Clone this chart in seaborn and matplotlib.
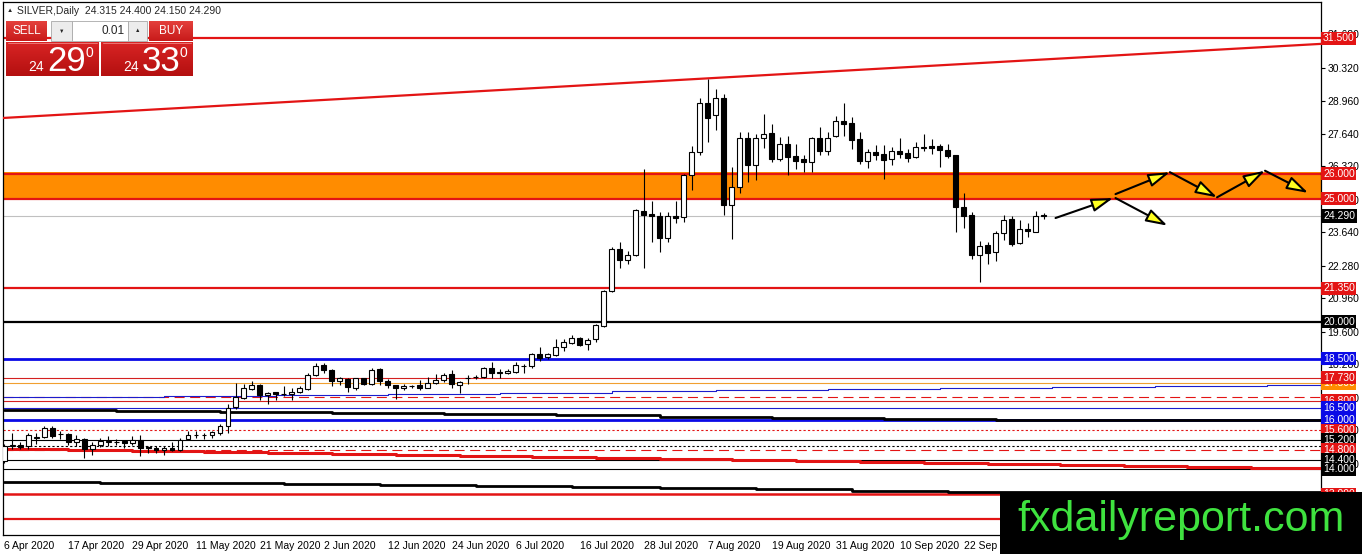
import matplotlib

matplotlib.use("Agg")

import matplotlib.pyplot as plt
from matplotlib.colors import LinearSegmentedColormap
from matplotlib.patches import Rectangle
import numpy as np
import pandas as pd
import seaborn as sns


# daily silver candles from 6 Apr 2020
opens = [14.35, 14.95, 15.00, 14.95, 15.28, 15.30, 15.68, 15.43, 15.46, 15.10,
         15.24, 14.84, 15.00, 15.12, 15.10, 15.14, 15.08, 15.20, 14.90, 14.88,
         14.78, 14.88, 14.80, 15.25, 15.38, 15.40, 15.38, 15.50, 15.75, 16.53,
         16.91, 17.25, 17.45, 17.02, 17.15, 17.05, 17.07, 17.15, 17.25, 17.83,
         18.24, 18.02, 17.59, 17.66, 17.32, 17.70, 17.48, 18.06, 17.59, 17.43,
         17.29, 17.38, 17.43, 17.32, 17.52, 17.62, 17.86, 17.45, 17.70, 17.74,
         17.76, 18.13, 17.93, 17.90, 17.95, 18.19, 18.20, 18.67, 18.58, 18.63,
         18.99, 19.12, 19.35, 19.08, 19.28, 19.83, 21.25, 22.95, 22.51, 22.70,
         24.51, 24.37, 24.28, 23.41, 24.30, 24.24, 25.96, 26.91, 28.89, 28.40,
         29.08, 24.75, 25.45, 27.45, 26.36, 27.45, 27.67, 26.61, 27.22, 26.72,
         26.61, 26.50, 27.45, 26.95, 27.53, 28.13, 28.07, 27.42, 26.54, 26.88,
         26.81, 26.61, 26.95, 26.85, 26.67, 27.06, 27.12, 27.15, 26.99, 26.77,
         24.64, 24.33, 22.70, 23.11, 22.84, 23.60, 24.17, 23.18, 23.76, 23.65,
         24.315]
highs = [15.05, 15.50, 15.10, 15.50, 15.50, 15.78, 15.76, 15.55, 15.50, 15.38,
         15.28, 15.10, 15.28, 15.35, 15.24, 15.15, 15.35, 15.40, 14.97, 14.94,
         14.94, 15.10, 15.28, 15.55, 15.55, 15.50, 15.55, 15.86, 16.64, 17.52,
         17.48, 17.59, 17.47, 17.15, 17.16, 17.38, 17.29, 17.38, 17.93, 18.33,
         18.33, 18.06, 17.75, 17.72, 17.72, 17.72, 18.13, 18.13, 17.66, 17.45,
         17.48, 17.45, 17.62, 17.75, 17.89, 17.93, 18.02, 17.59, 17.83, 17.83,
         18.15, 18.36, 18.06, 18.06, 18.36, 18.27, 18.74, 18.99, 18.74, 19.31,
         19.31, 19.45, 19.39, 19.35, 19.89, 21.30, 23.02, 23.22, 22.88, 24.57,
         26.20, 24.91, 24.44, 24.44, 24.91, 26.00, 27.12, 29.08, 29.86, 29.43,
         29.25, 26.27, 27.69, 27.72, 27.63, 28.44, 28.03, 27.49, 27.53, 27.22,
         26.77, 27.49, 27.90, 27.72, 28.34, 28.89, 28.30, 27.69, 27.01, 27.18,
         27.18, 27.08, 27.45, 27.01, 27.29, 27.63, 27.42, 27.22, 27.22, 26.77,
         25.23, 24.44, 23.28, 23.24, 23.69, 24.33, 24.28, 24.14, 24.00, 24.51,
         24.400]
lows = [14.25, 14.85, 14.85, 14.82, 15.05, 15.26, 15.28, 15.25, 15.00, 14.97,
        14.47, 14.60, 14.92, 14.96, 15.00, 14.88, 15.00, 14.53, 14.67, 14.65,
        14.60, 14.74, 14.74, 15.20, 15.27, 15.24, 15.27, 15.42, 15.48, 16.44,
        16.88, 17.21, 16.84, 16.67, 16.84, 16.98, 16.84, 17.11, 17.21, 17.79,
        17.93, 17.39, 17.43, 17.15, 17.21, 17.43, 17.43, 17.45, 17.32, 16.88,
        17.21, 17.32, 17.21, 17.29, 17.48, 17.56, 17.32, 17.11, 17.48, 17.66,
        17.72, 17.72, 17.72, 17.86, 17.90, 17.93, 18.13, 18.40, 18.47, 18.61,
        18.81, 19.08, 19.01, 18.85, 19.17, 19.80, 21.21, 22.20, 22.34, 22.68,
        22.20, 23.25, 22.84, 23.25, 23.99, 24.06, 25.36, 26.77, 27.31, 27.80,
        24.33, 23.35, 25.22, 25.68, 25.77, 27.04, 26.47, 26.54, 25.96, 26.20,
        26.09, 26.09, 26.77, 26.77, 27.49, 27.53, 27.01, 26.40, 26.23, 26.58,
        25.79, 26.36, 26.63, 26.50, 26.63, 26.95, 26.81, 26.27, 26.64, 23.65,
        23.79, 22.54, 21.62, 22.34, 22.47, 23.33, 23.08, 23.15, 23.42, 23.65,
        24.150]
closes = [14.95, 14.98, 14.90, 15.40, 15.32, 15.70, 15.36, 15.45, 15.10, 15.24,
          14.84, 15.01, 15.15, 15.14, 15.11, 15.08, 15.21, 14.88, 14.88, 14.78,
          14.88, 14.78, 15.21, 15.38, 15.40, 15.41, 15.51, 15.78, 16.50, 16.94,
          17.32, 17.45, 17.02, 17.11, 17.05, 17.06, 17.15, 17.32, 17.83, 18.20,
          18.02, 17.59, 17.70, 17.35, 17.70, 17.48, 18.02, 17.59, 17.45, 17.29,
          17.38, 17.40, 17.29, 17.51, 17.62, 17.83, 17.48, 17.55, 17.72, 17.76,
          18.13, 17.93, 17.95, 18.00, 18.23, 18.21, 18.67, 18.54, 18.67, 18.99,
          19.17, 19.35, 19.04, 19.26, 19.85, 21.25, 22.95, 22.51, 22.70, 24.55,
          24.33, 24.28, 23.41, 24.30, 24.21, 25.96, 26.91, 28.89, 28.26, 29.08,
          24.73, 25.45, 27.45, 26.36, 27.45, 27.63, 26.61, 27.22, 26.70, 26.54,
          26.50, 27.45, 26.95, 27.45, 28.13, 28.03, 27.39, 26.54, 26.88, 26.77,
          26.58, 26.95, 26.81, 26.63, 27.08, 27.08, 27.04, 26.99, 26.72, 24.64,
          24.30, 22.70, 23.08, 22.78, 23.62, 24.14, 23.15, 23.76, 23.68, 24.30,
          24.290]

date_ticks = [0, 8, 16, 24, 32, 40, 48, 56, 64, 72, 80, 88, 96, 104, 112, 120]
date_labels = ["6 Apr 2020", "17 Apr 2020", "29 Apr 2020", "11 May 2020",
               "21 May 2020", "2 Jun 2020", "12 Jun 2020", "24 Jun 2020",
               "6 Jul 2020", "16 Jul 2020", "28 Jul 2020", "7 Aug 2020",
               "19 Aug 2020", "31 Aug 2020", "10 Sep 2020", "22 Sep 2020"]
price_ticks = [31.68, 30.32, 28.96, 27.64, 26.32, 24.96, 23.64, 22.28,
               20.96, 19.60, 18.28, 16.92, 15.60, 14.24, 12.92, 11.56]

# horizontal levels drawn on the chart
level_prices = [31.50, 26.00, 25.00, 24.29, 21.35, 20.00, 18.50, 17.73, 17.50,
                16.95, 16.80, 16.50, 16.00, 15.60, 15.20, 14.95, 14.80, 14.40,
                14.00, 13.00, 12.00]
# zone between the two orange levels
zone_low, zone_high = 24.95, 26.08
# rising resistance line (bar, price at both ends)
trend_bars = [-0.2, 164.7]
trend_prices = [28.27, 31.28]
# stepped averages (bar where each step begins, price)
red_step_bars = [0, 8, 16, 25, 33, 41, 49, 57, 66, 74, 82, 91, 99, 107, 115,
                 123, 132, 140, 148, 156]
red_step_prices = [14.83, 14.80, 14.76, 14.72, 14.68, 14.64, 14.60, 14.56,
                   14.51, 14.47, 14.43, 14.39, 14.35, 14.31, 14.27, 14.22,
                   14.18, 14.14, 14.10, 14.06]
black_step_bars = [0, 14, 27, 41, 55, 69, 82, 96, 110, 124]
black_step_prices = [16.43, 16.39, 16.35, 16.30, 16.25, 16.21, 16.15, 16.11,
                     16.05, 15.99]
low_step_bars = [0, 12, 24, 35, 47, 59, 71, 82, 94, 106, 118]
low_step_prices = [13.51, 13.47, 13.44, 13.40, 13.36, 13.33, 13.30, 13.25,
                   13.20, 13.14, 13.09]
blue_step_bars = [0, 20, 34, 48, 62, 76, 89, 103, 117, 131, 144, 158]
blue_step_prices = [16.95, 16.98, 17.02, 17.07, 17.12, 17.17, 17.21, 17.25,
                    17.30, 17.34, 17.38, 17.42]

# projected path arrows
arrow_x0 = [131.5, 139.0, 139.0, 145.8, 151.7, 157.7]
arrow_y0 = [24.21, 25.02, 25.18, 26.07, 25.05, 26.13]
arrow_x1 = [138.7, 145.5, 145.8, 151.7, 157.7, 163.1]
arrow_y1 = [25.02, 23.90, 26.07, 25.05, 26.13, 25.23]

# price labels on the right scale
label_prices = [31.50, 26.00, 25.00, 24.29, 21.35, 20.00, 18.50, 17.50, 17.73,
                16.80, 16.50, 16.00, 15.60, 15.20, 14.80, 14.40, 14.00, 13.00]

RED = "#e31414"
BLUE = "#0a0ae6"
ORANGE = "#ff8c00"

LEVEL_STYLE = {
    31.50: (RED, 1.6, "-"), 26.00: (RED, 1.6, "-"), 25.00: (RED, 1.6, "-"),
    24.29: ("#c0c0c0", 0.8, "-"), 21.35: (RED, 1.6, "-"),
    20.00: ("black", 1.6, "-"), 18.50: (BLUE, 2.0, "-"),
    17.73: ("#d42020", 0.8, "-"), 17.50: ("#f0a030", 0.8, "-"),
    16.95: (RED, 0.8, (0, (9, 5))), 16.80: ("#d42020", 0.8, "-"),
    16.50: ("#1c1ccc", 0.8, "-"), 16.00: (BLUE, 2.0, "-"),
    15.60: (RED, 0.8, (0, (2, 2))), 15.20: ("black", 0.8, "-"),
    14.95: ("black", 0.8, (0, (2, 2))), 14.80: (RED, 0.8, (0, (9, 5))),
    14.40: ("black", 0.8, "-"), 14.00: ("black", 0.8, "-"),
    13.00: (RED, 1.8, "-"), 12.00: (RED, 1.6, "-"),
}
LABEL_BG = {31.50: RED, 26.00: RED, 25.00: RED, 24.29: "black", 21.35: RED,
            20.00: "black", 18.50: BLUE, 17.50: ORANGE, 17.73: RED,
            16.80: RED, 16.50: BLUE, 16.00: BLUE, 15.60: RED, 15.20: "black",
            14.80: RED, 14.40: "black", 14.00: "black", 13.00: RED}

W, H = 1362, 554
XMIN, XMAX = -0.2, 164.7
YMIN, YMAX = 11.34, 32.98


def grad_rect(ax, x, y, w, h, top, bottom, z=2):
    cmap = LinearSegmentedColormap.from_list("g", [top, bottom])
    ax.imshow(np.linspace(0, 1, 32).reshape(-1, 1), extent=(x, x + w, y + h, y),
              cmap=cmap, aspect="auto", zorder=z, interpolation="bilinear")


def draw_panel(ov):
    # header line
    ov.text(7, 11, "\u25b2", fontsize=4.5, va="center", ha="left")
    ov.text(17, 11, "SILVER,Daily  24.315 24.400 24.150 24.290",
            fontsize=7.5, va="center", ha="left")
    # sell / lot / buy row
    grad_rect(ov, 6, 21, 41, 20, "#e4403c", "#c81a1a")
    ov.text(26.5, 31, "SELL", color="white", fontsize=8.5, ha="center", va="center", zorder=3)
    ov.add_patch(Rectangle((51, 21), 21, 20, fc="#ececec", ec="#a8a8a8", lw=0.6, zorder=2))
    ov.text(61.5, 31, "\u25bc", fontsize=4, ha="center", va="center", zorder=3)
    ov.add_patch(Rectangle((72, 21), 56, 20, fc="white", ec="#a8a8a8", lw=0.6, zorder=2))
    ov.text(125, 31, "0.01", fontsize=8.5, ha="right", va="center", zorder=3)
    ov.add_patch(Rectangle((128, 21), 19, 20, fc="#ececec", ec="#a8a8a8", lw=0.6, zorder=2))
    ov.text(137.5, 31, "\u25b2", fontsize=4, ha="center", va="center", zorder=3)
    grad_rect(ov, 149, 21, 44, 20, "#e4403c", "#c81a1a")
    ov.text(171, 31, "BUY", color="white", fontsize=8.5, ha="center", va="center", zorder=3)
    # big quote boxes
    for x0, w0, big in [(6, 93, "29"), (101, 92, "33")]:
        grad_rect(ov, x0, 42, w0, 34, "#d82424", "#b41010")
        ov.plot([x0 + 2, x0 + w0 - 2], [42.5, 42.5], color="#f08080", lw=0.6, zorder=3)
        ov.text(x0 + 22, 71, "24", color="white", fontsize=10, ha="left", va="baseline", zorder=3)
        ov.text(x0 + 41, 71, big, color="white", fontsize=25, ha="left", va="baseline", zorder=3)
        ov.text(x0 + 79, 57, "0", color="white", fontsize=10, ha="left", va="baseline", zorder=3)
    # watermark
    ov.add_patch(Rectangle((1000, 492), 362, 62, fc="black", ec="none", zorder=4))
    ov.text(1181, 520, "fxdailyreport.com", color="#3fe23f", fontsize=31,
            ha="center", va="center", zorder=5)


def main():
    sns.set_style("white")
    plt.rcParams["font.family"] = ["Liberation Sans", "DejaVu Sans"]

    df = pd.DataFrame({"o": opens, "h": highs, "l": lows, "c": closes})
    df["bar"] = np.arange(len(df))

    fig = plt.figure(figsize=(W / 100, H / 100), dpi=100)
    fig.patch.set_facecolor("white")
    ax = fig.add_axes([2.5 / W, (H - 535) / H, (1321 - 2.5) / W, 533 / H])
    ax.set_facecolor("white")

    ax.axhspan(zone_low, zone_high, color=ORANGE, lw=0, zorder=1)
    for p in level_prices:
        color, lw, ls = LEVEL_STYLE[p]
        ax.axhline(p, color=color, lw=lw, ls=ls, zorder=2)

    for bars, prices, color, lw in [
        (blue_step_bars, blue_step_prices, "#1c1ccc", 0.8),
        (black_step_bars, black_step_prices, "black", 2.0),
        (low_step_bars, low_step_prices, "black", 2.0),
        (red_step_bars, red_step_prices, RED, 2.2),
    ]:
        sns.lineplot(x=bars + [XMAX], y=prices + [prices[-1]], ax=ax, color=color,
                     lw=lw, drawstyle="steps-post", zorder=3)
    sns.lineplot(x=trend_bars, y=trend_prices, ax=ax, color=RED, lw=1.6, zorder=3)

    # candles
    up = df["c"] >= df["o"]
    ax.vlines(df["bar"], df["l"], df["h"], color="black", lw=0.8, zorder=5)
    ax.bar(df["bar"][up], (df["c"] - df["o"])[up].clip(lower=0.015), bottom=df["o"][up],
           width=0.62, color="white", edgecolor="black", lw=0.8, zorder=6)
    ax.bar(df["bar"][~up], (df["o"] - df["c"])[~up].clip(lower=0.015), bottom=df["c"][~up],
           width=0.62, color="black", edgecolor="black", lw=0.8, zorder=6)

    for x0, y0, x1, y1 in zip(arrow_x0, arrow_y0, arrow_x1, arrow_y1):
        ax.annotate("", xy=(x1, y1), xytext=(x0, y0),
                    arrowprops=dict(arrowstyle="-|>,head_length=1.3,head_width=0.4",
                                    fc="#ffff20", ec="black", lw=1.5,
                                    shrinkA=0, shrinkB=0), zorder=7)

    ax.set_xlim(XMIN, XMAX)
    ax.set_ylim(YMIN, YMAX)
    ax.set_xlabel("")
    ax.set_ylabel("")
    ax.yaxis.tick_right()
    ax.set_yticks(price_ticks)
    ax.set_yticklabels([f"{t:.3f}" for t in price_ticks])
    ax.set_xticks(date_ticks)
    ax.set_xticklabels(date_labels)
    for lbl in ax.get_xticklabels():
        lbl.set_ha("left")
    ax.tick_params(axis="y", direction="out", length=3, width=0.8, labelsize=7.5,
                   pad=1.5, colors="black")
    ax.tick_params(axis="x", direction="out", length=3, width=0.8, labelsize=7.5,
                   pad=1.5, colors="black")
    for s in ax.spines.values():
        s.set_color("black")
        s.set_linewidth(0.9)

    for p in label_prices:
        ax.text(1.0015, p, f"{p:.3f}", transform=ax.get_yaxis_transform(),
                fontsize=7.5, color="white", ha="left", va="center", zorder=10,
                clip_on=False,
                bbox=dict(boxstyle="square,pad=0.15", fc=LABEL_BG[p], ec="none"))

    ov = fig.add_axes([0, 0, 1, 1], zorder=20)
    ov.patch.set_alpha(0)
    draw_panel(ov)
    ov.set_xlim(0, W)
    ov.set_ylim(H, 0)
    ov.axis("off")

    fig.savefig("out.png", dpi=100)
    plt.close(fig)


if __name__ == "__main__":
    main()
